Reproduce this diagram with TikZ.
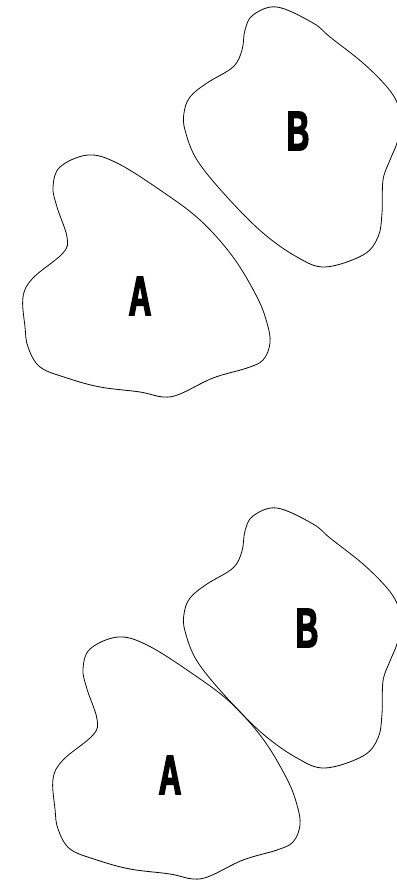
\documentclass[tikz,border=0pt]{standalone}
\usepackage{fontspec}
\newfontfamily\blobfont[FakeStretch=0.56,FakeBold=2.5]{Liberation Sans}

\tikzset{
  outline/.style={line width=.8pt,line join=round},
  blob label/.style={inner sep=0pt,font=\blobfont\bfseries\fontsize{56}{56}\selectfont},
  blob a/.pic={
    \draw[outline] plot[smooth cycle,tension=.6] coordinates {(88,155) (117,163) (160,190) (200,220) (233,257) (257,297) (267,323) (270,343) (263,360) (247,368) (213,378) (180,394) (163,397) (140,392) (100,387) (67,378) (40,367) (28,347) (25,327) (23,297) (33,278) (63,253) (67,237) (57,207) (53,187) (60,167)};
  },
  blob b/.pic={
    \draw[outline] plot[smooth cycle,tension=.6] coordinates {(277,7) (313,23) (330,37) (363,63) (387,87) (398,105) (400,125) (397,143) (390,160) (383,180) (382,213) (378,237) (363,255) (325,267) (297,257) (263,233) (227,197) (197,160) (185,130) (184,113) (190,97) (207,83) (233,67) (242,50) (245,30) (253,15)};
  }
}

\begin{document}
\begin{tikzpicture}[x=1pt,y=-1pt]
\useasboundingbox (0,0) rectangle (396,885);
% apart
\pic at (0,0) {blob a};
\pic at (0,0) {blob b};
\node[blob label] (topA) at (140,296) {A};
\node[blob label] (topB) at (298,131) {B};
% touching
\pic at (30,482) {blob a};
\pic at (0,501) {blob b};
\node[blob label] (botA) at (170,775) {A};
\node[blob label] (botB) at (307,628) {B};
\end{tikzpicture}
\end{document}
